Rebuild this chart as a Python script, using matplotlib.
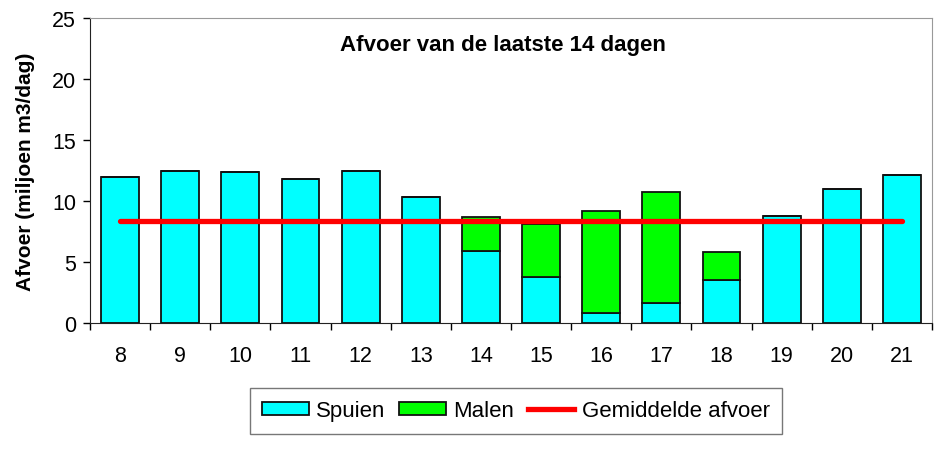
import matplotlib.pyplot as plt
import numpy as np
from matplotlib.patches import Patch
from matplotlib.lines import Line2D

plt.rcParams['font.family'] = ['Liberation Sans', 'DejaVu Sans']

days = ['8', '9', '10', '11', '12', '13', '14', '15', '16', '17', '18', '19', '20', '21']
spuien = [12.0, 12.5, 12.4, 11.8, 12.5, 10.3, 5.9, 3.8, 0.8, 1.6, 3.5, 8.8, 11.0, 12.1]
malen = [0, 0, 0, 0, 0, 0, 2.8, 4.35, 8.4, 9.1, 2.35, 0, 0, 0]
gemiddeld = 8.4

x = np.arange(len(days))

fig = plt.figure(figsize=(9.4, 4.77), dpi=100)
ax = fig.add_axes([90/940, 1 - 324/477, (932-90)/940, (324-19)/477])

ax.bar(x, spuien, width=0.63, color='#00ffff', edgecolor='#111111', linewidth=1.3)
ax.bar(x, malen, width=0.63, bottom=spuien, color='#00ff00', edgecolor='#111111', linewidth=1.3)
ax.plot([x[0], x[-1]], [gemiddeld, gemiddeld], color='#ff0000', linewidth=3.8, solid_capstyle='round')

ax.set_xlim(-0.5, len(days) - 0.5)
ax.set_ylim(0, 25)
ax.set_yticks([0, 5, 10, 15, 20, 25])
ax.set_xticks(x)
ax.set_xticklabels(days)
ax.set_xticks(np.arange(-0.5, len(days)), minor=True)
ax.tick_params(axis='x', which='major', length=0, pad=16, labelsize=15.5)
ax.tick_params(axis='x', which='minor', length=5, direction='out', width=1)
ax.tick_params(axis='y', length=5, width=1, labelsize=15.5, pad=5)

ax.spines['top'].set_color('#999999')
ax.spines['right'].set_color('#999999')
for s in ['left', 'bottom']:
    ax.spines[s].set_color('#222222')

ax.set_ylabel('Afvoer (miljoen m3/dag)', fontsize=15, fontweight='bold', labelpad=12)
# title inside the plot, positioned in figure inches
fig.text(503/940, 1 - 46/477, 'Afvoer van de laatste 14 dagen',
         ha='center', va='center', fontsize=16, fontweight='bold')

handles = [Patch(facecolor='#00ffff', edgecolor='#111111', linewidth=1.3),
           Patch(facecolor='#00ff00', edgecolor='#111111', linewidth=1.3),
           Line2D([0], [0], color='#ff0000', linewidth=3.8)]
leg = fig.legend(handles, ['Spuien', 'Malen', 'Gemiddelde afvoer'], loc='center',
                 bbox_to_anchor=(516/940, 1 - 412/477), ncol=3, fontsize=16,
                 frameon=True, fancybox=False, edgecolor='#555555',
                 handlelength=2.1, handleheight=0.5, handletextpad=0.35,
                 columnspacing=0.6, borderpad=0.55)
leg.get_frame().set_linewidth(1.0)

fig.savefig('out.png', dpi=100)
